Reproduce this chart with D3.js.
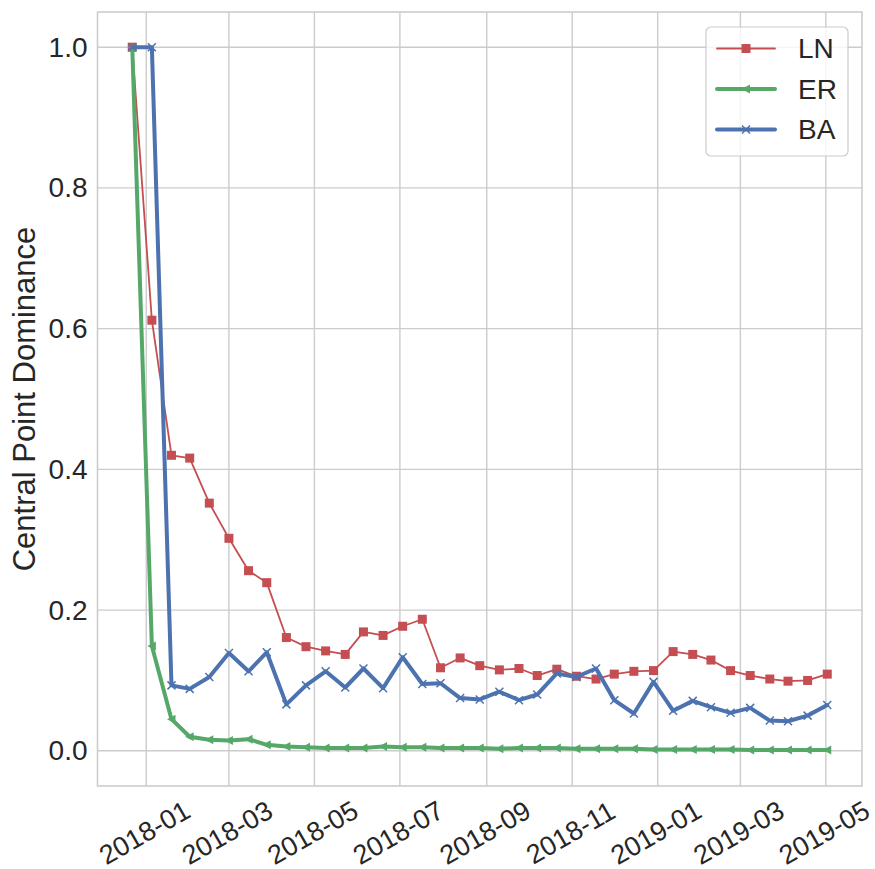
<!DOCTYPE html>
<html>
<head>
<meta charset="utf-8">
<script src="https://cdn.jsdelivr.net/npm/d3@7"></script>
<style>
  html, body { margin: 0; padding: 0; background: #fff; }
  svg { display: block; font-family: Arial, "Liberation Sans", sans-serif; }
  .grid line { stroke: #cccccc; stroke-width: 1.4; }
  .tick-label { fill: #262626; font-size: 28px; }
  .xtick { font-size: 27px; }
</style>
</head>
<body>
<svg id="chart" width="875" height="869"></svg>
<script>
// sample dates (roughly every two weeks)
const dates = [
  '2017-12-22', '2018-01-05', '2018-01-19', '2018-02-01', '2018-02-15', '2018-03-01',
  '2018-03-15', '2018-03-28', '2018-04-11', '2018-04-25', '2018-05-09', '2018-05-23',
  '2018-06-05', '2018-06-19', '2018-07-03', '2018-07-17', '2018-07-30', '2018-08-13',
  '2018-08-27', '2018-09-10', '2018-09-24', '2018-10-07', '2018-10-21', '2018-11-04',
  '2018-11-18', '2018-12-01', '2018-12-15', '2018-12-29', '2019-01-12', '2019-01-26',
  '2019-02-08', '2019-02-22', '2019-03-08', '2019-03-22', '2019-04-04', '2019-04-18',
  '2019-05-02',
];

const lnValues = [
  1.0, 0.612, 0.420, 0.416, 0.352, 0.302, 0.256, 0.239, 0.161, 0.148, 0.142, 0.137,
  0.169, 0.164, 0.177, 0.187, 0.118, 0.132, 0.121, 0.115, 0.117, 0.107, 0.116, 0.106,
  0.102, 0.109, 0.113, 0.114, 0.141, 0.137, 0.129, 0.114, 0.107, 0.102, 0.099, 0.100,
  0.109,
];

const erValues = [
  1.0, 0.149, 0.045, 0.020, 0.0156, 0.0146, 0.0166, 0.0085, 0.006, 0.005, 0.004, 0.004,
  0.004, 0.006, 0.005, 0.005, 0.004, 0.004, 0.004, 0.003, 0.004, 0.004, 0.004, 0.003,
  0.003, 0.003, 0.003, 0.002, 0.002, 0.002, 0.002, 0.002, 0.001, 0.001, 0.001, 0.001,
  0.001,
];

const baValues = [
  1.0, 1.0, 0.093, 0.088, 0.105, 0.139, 0.113, 0.140, 0.066, 0.093, 0.113, 0.090,
  0.117, 0.089, 0.133, 0.095, 0.096, 0.075, 0.073, 0.084, 0.072, 0.080, 0.110, 0.105,
  0.117, 0.072, 0.053, 0.098, 0.057, 0.071, 0.062, 0.054, 0.061, 0.043, 0.042, 0.050,
  0.065,
];

const xTicks = ['2018-01', '2018-03', '2018-05', '2018-07', '2018-09', '2018-11', '2019-01', '2019-03', '2019-05'];
const yTicks = [0.0, 0.2, 0.4, 0.6, 0.8, 1.0];

const series = [
  { name: 'LN', values: lnValues, color: '#C44E52', width: 1.8, marker: 'square' },
  { name: 'ER', values: erValues, color: '#55A868', width: 4, marker: 'triangle' },
  { name: 'BA', values: baValues, color: '#4C72B0', width: 4, marker: 'cross' },
];

const svg = d3.select('#chart');
const plotLeft = 97.5;
const plotRight = 862;
const plotTop = 12;
const plotBottom = 786;

const parseDay = d3.timeParse('%Y-%m-%d');
const parseMonth = d3.timeParse('%Y-%m');
const xDates = dates.map(parseDay);

// matplotlib-style 5% margins
const xExt = d3.extent(xDates);
const xPad = (xExt[1] - xExt[0]) * 0.05;
const x = d3.scaleTime()
  .domain([new Date(+xExt[0] - xPad), new Date(+xExt[1] + xPad)])
  .range([plotLeft, plotRight]);
const y = d3.scaleLinear().domain([-0.05, 1.05]).range([plotBottom, plotTop]);

// grid
const grid = svg.append('g').attr('class', 'grid');
grid.selectAll('line.gx').data(xTicks).enter().append('line')
  .attr('x1', (d) => x(parseMonth(d))).attr('x2', (d) => x(parseMonth(d)))
  .attr('y1', plotTop).attr('y2', plotBottom);
grid.selectAll('line.gy').data(yTicks).enter().append('line')
  .attr('x1', plotLeft).attr('x2', plotRight)
  .attr('y1', (d) => y(d)).attr('y2', (d) => y(d));

// spines
svg.append('rect')
  .attr('x', plotLeft).attr('y', plotTop)
  .attr('width', plotRight - plotLeft).attr('height', plotBottom - plotTop)
  .attr('fill', 'none').attr('stroke', '#cccccc').attr('stroke-width', 1.6);

// y tick labels
svg.selectAll('text.ytick').data(yTicks).enter().append('text')
  .attr('class', 'tick-label')
  .attr('x', plotLeft - 10)
  .attr('y', (d) => y(d))
  .attr('text-anchor', 'end')
  .attr('dominant-baseline', 'central')
  .text((d) => d3.format('.1f')(d));

// x tick labels, rotated
svg.selectAll('text.xtick').data(xTicks).enter().append('text')
  .attr('class', 'tick-label xtick')
  .attr('text-anchor', 'middle')
  .attr('dominant-baseline', 'central')
  .attr('transform', (d) => `translate(${x(parseMonth(d)) - 1.5},833) rotate(-30)`)
  .text((d) => d);

// y label
svg.append('text')
  .attr('transform', `translate(24,${(plotTop + plotBottom) / 2}) rotate(-90)`)
  .attr('text-anchor', 'middle')
  .attr('dominant-baseline', 'central')
  .attr('fill', '#262626')
  .style('font-size', '31px')
  .text('Central Point Dominance');

function drawMarker(g, kind, color, cx, cy) {
  if (kind === 'square') {
    g.append('rect')
      .attr('x', cx - 4.5).attr('y', cy - 4.5)
      .attr('width', 9).attr('height', 9)
      .attr('fill', color);
  } else if (kind === 'triangle') {
    g.append('path')
      .attr('d', `M${cx - 4.5},${cy} L${cx + 4},${cy - 4.5} L${cx + 4},${cy + 4.5} Z`)
      .attr('fill', color);
  } else {
    const r = 4;
    g.append('path')
      .attr('d', `M${cx - r},${cy - r} L${cx + r},${cy + r} M${cx - r},${cy + r} L${cx + r},${cy - r}`)
      .attr('stroke', color).attr('stroke-width', 1.5).attr('fill', 'none');
  }
}

const line = d3.line()
  .x((d, i) => x(xDates[i]))
  .y((d) => y(d));

series.forEach((s) => {
  const g = svg.append('g');
  g.append('path')
    .attr('d', line(s.values))
    .attr('fill', 'none')
    .attr('stroke', s.color)
    .attr('stroke-width', s.width)
    .attr('stroke-linejoin', 'round')
    .attr('stroke-linecap', 'round');
  s.values.forEach((v, i) => drawMarker(g, s.marker, s.color, x(xDates[i]), y(v)));
});

// legend
const lg = svg.append('g');
lg.append('rect')
  .attr('x', 706).attr('y', 27)
  .attr('width', 142).attr('height', 129)
  .attr('rx', 5)
  .attr('fill', 'rgba(255,255,255,0.8)')
  .attr('stroke', '#cccccc').attr('stroke-width', 1.2);

series.forEach((s, i) => {
  const ly = 48.5 + i * 40.5;
  lg.append('line')
    .attr('x1', 717).attr('x2', 775)
    .attr('y1', ly).attr('y2', ly)
    .attr('stroke', s.color).attr('stroke-width', s.width)
    .attr('stroke-linecap', 'round');
  drawMarker(lg, s.marker, s.color, 746, ly);
  lg.append('text')
    .attr('x', 798).attr('y', ly)
    .attr('dominant-baseline', 'central')
    .attr('fill', '#262626')
    .style('font-size', '28px')
    .text(s.name);
});
</script>
</body>
</html>
